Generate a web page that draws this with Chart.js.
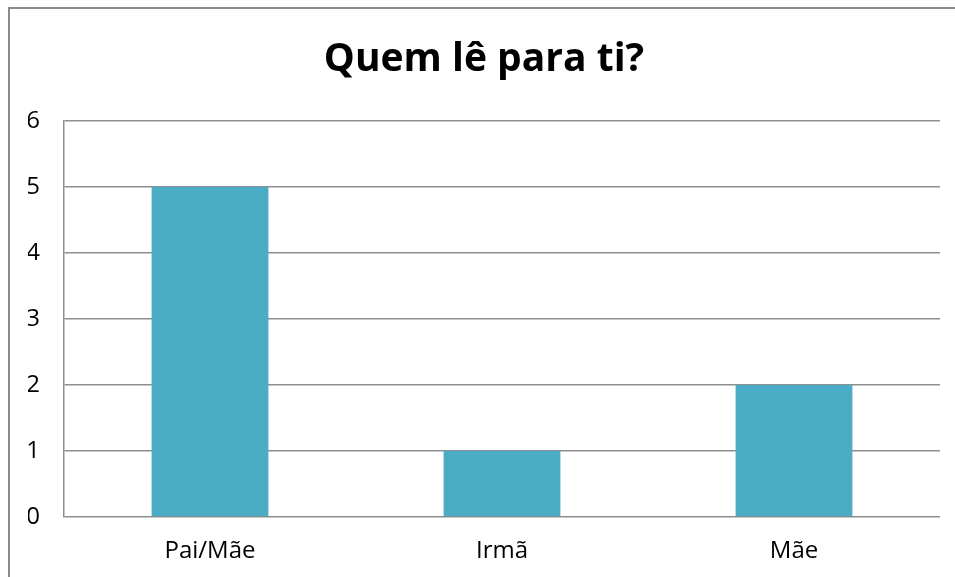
<!DOCTYPE html>
<html>
<head>
<meta charset="utf-8">
<script src="https://cdn.jsdelivr.net/npm/chart.js@4"></script>
<style>
  html, body { margin: 0; padding: 0; background: #fff; overflow: hidden; }
  #frame { position: absolute; left: 8px; top: 7px; width: 1000px; height: 620px; border: 2px solid #8a8a8a; box-sizing: border-box; }
  #wrap { position: absolute; left: 0; top: 0; width: 955px; height: 577px; }
</style>
</head>
<body>
<div id="frame"></div>
<div id="wrap"><canvas id="chart"></canvas></div>
<script>
// --- Data ---
const categories = ['Pai/Mãe', 'Irmã', 'Mãe'];
const counts = [5, 1, 2];
const yMin = 0;
const yMax = 6;

// --- Chart ---
const ctx = document.getElementById('chart');
const chart = new Chart(ctx, {
  type: 'bar',
  data: {
    labels: categories,
    datasets: [{ data: counts, backgroundColor: '#4bacc6', barPercentage: 0.4, categoryPercentage: 1 }]
  },
  options: {
    responsive: true,
    maintainAspectRatio: false,
    animation: false,
    // left padding keeps the title centred like the original frame
    layout: { padding: { left: 28, right: 15, top: 0, bottom: 0 } },
    plugins: {
      legend: { display: false },
      tooltip: { enabled: false },
      title: {
        display: true,
        text: 'Quem lê para ti?',
        color: '#000',
        font: { family: 'Open Sans', size: 39, weight: 'bold', lineHeight: 1.2 },
        padding: { top: 36, bottom: 38.2 }
      }
    },
    scales: {
      x: {
        grid: { display: false, drawTicks: false },
        border: { display: false },
        ticks: { color: '#000', padding: 20, font: { family: 'Open Sans', size: 24 } },
        afterFit: s => { s.height = 60; }
      },
      y: {
        min: yMin,
        max: yMax,
        grid: { color: '#8e8e8e', lineWidth: 1.5, drawTicks: false },
        border: { display: true, color: '#8e8e8e', width: 1.5 },
        ticks: { stepSize: 1, color: '#000', padding: 24, font: { family: 'Open Sans', size: 24 } },
        afterFit: s => { s.width = 36; }
      }
    }
  }
});
</script>
</body>
</html>
